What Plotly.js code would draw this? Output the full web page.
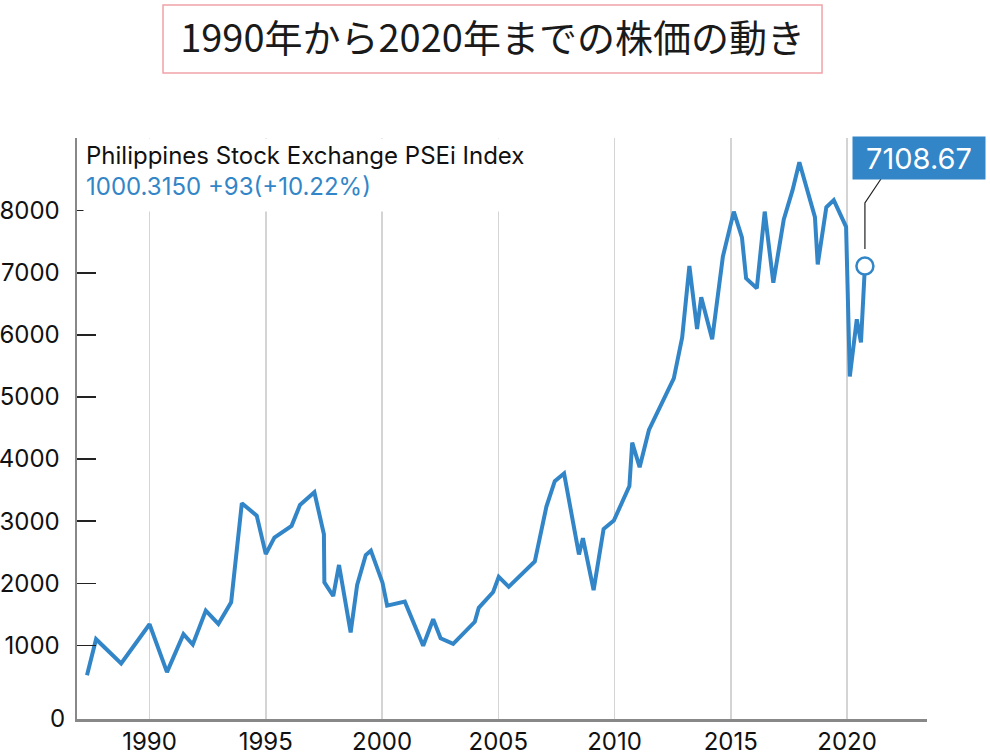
<!DOCTYPE html>
<html>
<head>
<meta charset="utf-8">
<script src="https://cdn.plot.ly/plotly-3.0.1.min.js"></script>
<style>
  html, body { margin: 0; padding: 0; background: #fff; }
  #chart { width: 990px; height: 756px; }
</style>
</head>
<body>
<div id="chart"></div>
<script>
// PSEi index (decimal year, index value)
const years = [
  1987.31, 1987.70, 1988.78, 1990.00, 1990.75, 1991.46, 1991.86, 1992.42, 1992.96, 1993.51,
  1993.97, 1994.61, 1995.00, 1995.37, 1996.11, 1996.47, 1997.09, 1997.50, 1997.52, 1997.90,
  1998.15, 1998.65, 1998.93, 1999.30, 1999.52, 2000.02, 2000.22, 2000.98, 2001.77, 2002.20,
  2002.52, 2003.06, 2003.99, 2004.16, 2004.78, 2005.02, 2005.45, 2006.00, 2006.57, 2007.07,
  2007.43, 2007.83, 2008.47, 2008.64, 2009.10, 2009.53, 2009.97, 2010.64, 2010.76, 2011.08,
  2011.48, 2012.55, 2012.91, 2013.22, 2013.55, 2013.73, 2014.20, 2014.66, 2015.13, 2015.48,
  2015.66, 2016.12, 2016.46, 2016.83, 2017.28, 2017.66, 2017.95, 2018.62, 2018.74, 2019.11,
  2019.43, 2019.96, 2020.12, 2020.42, 2020.60, 2020.77
];
const prices = [
  520, 1100, 710, 1340, 570, 1180, 1015, 1560, 1345, 1695,
  3290, 3090, 2470, 2735, 2925, 3260, 3465, 2790, 2015, 1795,
  2295, 1210, 1975, 2455, 2525, 2010, 1640, 1705, 995, 1420,
  1115, 1025, 1380, 1605, 1860, 2105, 1945, 2145, 2350, 3235,
  3645, 3770, 2465, 2725, 1890, 2875, 3010, 3565, 4265, 3870,
  4470, 5300, 5960, 7110, 6095, 6605, 5930, 7260, 7985, 7570,
  6910, 6750, 7985, 6840, 7860, 8335, 8780, 7895, 7135, 8055,
  8170, 7740, 5330, 6250, 5880, 7108.67
];

const yearTicks = [1990, 1995, 2000, 2005, 2010, 2015, 2020];
const priceTicks = [1000, 2000, 3000, 4000, 5000, 6000, 7000, 8000];

const chartTitle = '1990年から2020年までの株価の動き';
const indexName = 'Philippines Stock Exchange PSEi Index';
const indexQuote = '1000.3150 +93(+10.22%)';

const BLUE = '#3286c8';
const lastYear = years[years.length - 1];
const lastPrice = prices[prices.length - 1];

const line = {
  x: years,
  y: prices,
  type: 'scatter',
  mode: 'lines',
  line: { color: BLUE, width: 4 },
  hoverinfo: 'x+y',
};

const lastPoint = {
  x: [lastYear],
  y: [lastPrice],
  type: 'scatter',
  mode: 'markers',
  marker: {
    size: 17,
    color: '#fff',
    line: { color: BLUE, width: 2.5 },
  },
  hoverinfo: 'y',
};

const layout = {
  width: 990,
  height: 756,
  margin: { l: 77, r: 63, t: 138, b: 37 },
  paper_bgcolor: '#fff',
  plot_bgcolor: '#fff',
  showlegend: false,
  font: { family: 'Inter, "Noto Sans CJK JP", sans-serif', color: '#111' },
  title: {
    text: chartTitle,
    x: 0.4975,
    xref: 'container',
    xanchor: 'center',
    y: 0.949,
    yref: 'container',
    yanchor: 'middle',
    font: { family: '"Noto Sans CJK JP", sans-serif', size: 38, color: '#1a1a1a' },
  },
  xaxis: {
    range: [1986.88, 2023.44],
    tickvals: yearTicks,
    ticks: '',
    showgrid: true,
    gridcolor: '#d4d4d4',
    gridwidth: 1.5,
    zeroline: false,
    showline: true,
    linecolor: '#888',
    linewidth: 2.5,
    tickfont: { size: 24, color: '#111' },
    ticklabelstandoff: 0,
  },
  yaxis: {
    range: [-185, 9170],
    tickvals: priceTicks,
    ticks: 'inside',
    ticklen: 19,
    tickwidth: 1.5,
    tickcolor: '#222',
    showgrid: false,
    zeroline: false,
    showline: true,
    linecolor: '#888',
    linewidth: 2.5,
    tickfont: { size: 24, color: '#111' },
    ticklabelstandoff: 10,
  },
  shapes: [
    // pink frame round the title
    {
      type: 'rect', xref: 'paper', yref: 'paper',
      x0: 0.1012, x1: 0.8765, y0: 1.1119, y1: 1.2289,
      line: { color: '#f0a3a8', width: 1.5 },
    },
    // callout leader from the last point to the value box
    {
      type: 'path', xref: 'x', yref: 'y',
      xsizemode: 'pixel', ysizemode: 'pixel',
      xanchor: lastYear, yanchor: lastPrice,
      path: 'M0,17 L0,63 L16,87',
      line: { color: '#222', width: 1.2 },
    },
  ],
  annotations: [
    {
      xref: 'paper', yref: 'paper', x: 0, y: 1,
      xanchor: 'left', yanchor: 'top', xshift: 6,
      width: 520, height: 68, align: 'left', valign: 'top',
      borderpad: 2,
      bgcolor: '#fff',
      showarrow: false,
      text: indexName + '<br><span style="color:' + BLUE + '">' + indexQuote + '</span>',
      font: { size: 24, color: '#111' },
    },
    {
      xref: 'paper', yref: 'y', x: 0, y: 0,
      xanchor: 'right', yanchor: 'middle', xshift: -10, yshift: -11,
      showarrow: false,
      text: '0',
      font: { size: 24, color: '#111' },
    },
    {
      x: lastYear, y: lastPrice,
      xanchor: 'center', yanchor: 'middle',
      xshift: 54.5, yshift: 107.8,
      width: 132, height: 42, borderpad: 0,
      bgcolor: BLUE,
      showarrow: false,
      text: lastPrice.toFixed(2),
      font: { size: 29, color: '#fff' },
    },
  ],
};

Plotly.newPlot('chart', [line, lastPoint], layout, { displayModeBar: false, staticPlot: true });
</script>
</body>
</html>
